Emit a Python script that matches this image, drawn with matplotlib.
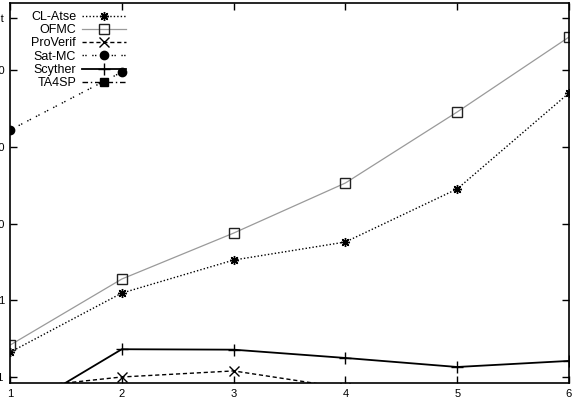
import numpy as np
import matplotlib
matplotlib.use("Agg")
import matplotlib.pyplot as plt

plt.rcParams['font.family'] = ['Liberation Sans', 'DejaVu Sans']

x = [1, 2, 3, 4, 5, 6]
cl_atse = [0.21, 1.24, 3.34, 5.74, 28.2, 502]
ofmc = [0.26, 1.89, 7.5, 33.7, 284, 2690]
proverif_x = [1, 2, 3, 4]
proverif = [0.07, 0.10, 0.12, 0.072]
satmc_x = [1, 2]
satmc = [165, 940]
scyther = [0.031, 0.23, 0.227, 0.177, 0.135, 0.162]
ta4sp_x = []
ta4sp = []

ytick_vals = [0.1, 1, 10, 100, 1000, 4760]
ytick_labels = ["0.1", "1", "10", "100", "1000", "timeout"]

W, H = 574, 398
fig = plt.figure(figsize=(W / 100, H / 100), dpi=100)
ax = fig.add_axes([10 / W, 15 / H, 559 / W, 380 / H])

ax.plot(x, cl_atse, color='black', lw=1.0, ls=(0, (1, 1.5)),
        marker=(8, 2, 0), ms=6.5, mew=1.0, label='CL-Atse')
ax.plot(x, ofmc, color='#9a9a9a', lw=0.9, ls='-',
        marker='s', ms=6.5, mfc='none', mec='#222222', mew=1.0, label='OFMC')
ax.plot(proverif_x, proverif, color='black', lw=1.0, ls=(0, (3, 2)),
        marker='x', ms=6.5, mew=1.0, label='ProVerif')
ax.plot(satmc_x, satmc, color='black', lw=1.0, ls=(0, (1, 1, 1, 4)),
        marker='o', ms=6, label='Sat-MC')
ax.plot(x, scyther, color='black', lw=1.3, ls='-',
        marker='+', ms=8, mew=1.0, label='Scyther')
ax.plot(ta4sp_x, ta4sp, color='black', lw=1.0, ls=(0, (4, 2, 1, 2)),
        marker='s', ms=6, label='TA4SP')

ax.set_yscale('log')
ax.set_xlim(1, 6)
ax.set_ylim(0.0835, 7470)
ax.set_xticks(x)
ax.set_xticklabels([str(v) for v in x])
ax.set_yticks(ytick_vals)
ax.set_yticklabels(ytick_labels)
ax.minorticks_off()
ax.tick_params(direction='in', length=5, width=1.0, top=True, right=True,
               labelsize=8, pad=4)
for s in ax.spines.values():
    s.set_linewidth(1.2)

leg = ax.legend(loc='upper left', bbox_to_anchor=((31 - 10) / 559, 1 - (11 - 3) / 380),
                borderaxespad=0, borderpad=0, frameon=False, markerfirst=False,
                fontsize=9, handlelength=3.5, handletextpad=0.5, labelspacing=0.1,
                numpoints=1)

fig.savefig('out.png', dpi=100)
